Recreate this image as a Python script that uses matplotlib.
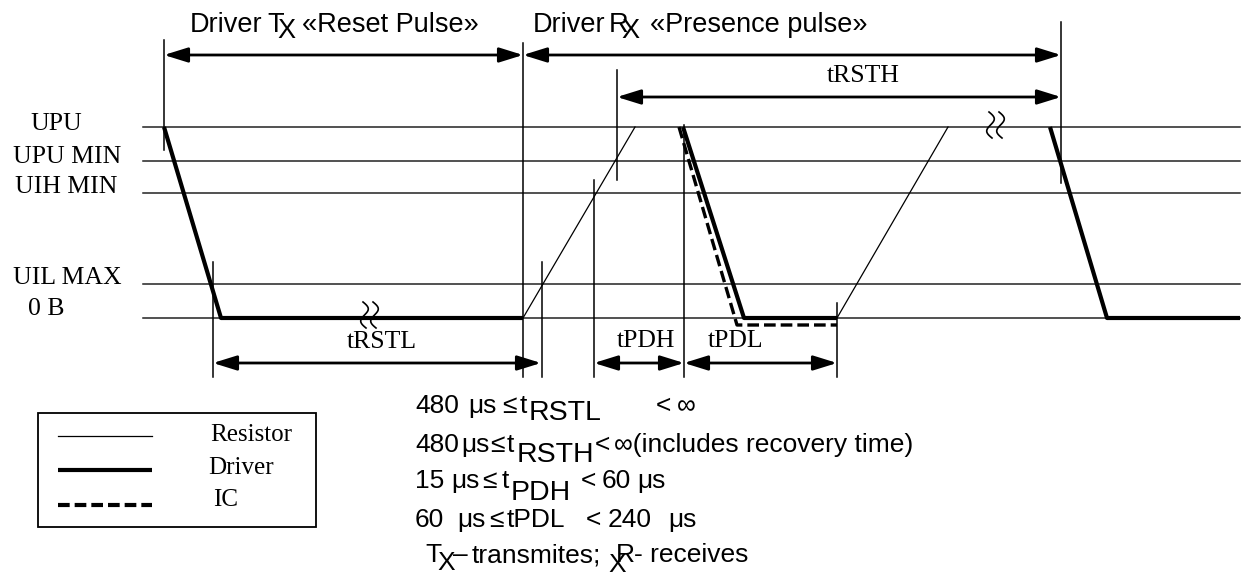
import numpy as np
import matplotlib
matplotlib.use('Agg')
import matplotlib.pyplot as plt
from matplotlib.patches import Rectangle

# Diagram coordinates (pixel space of the original drawing, y grows downwards)
level_names = ['UPU', 'UPU MIN', 'UIH MIN', 'UIL MAX', '0 B']
level_y = [127, 161, 193, 284, 318]
level_label_x = [30, 13, 15, 13, 28]
level_label_base = [130, 163, 193, 284, 315]
level_x = [143, 1240]

# Driver (thick) segments
driver_segments = [
    ([164, 221, 523], [127, 318, 318]),
    ([683, 744, 837], [127, 318, 318]),
    ([1050, 1107, 1240], [127, 318, 318]),
]
# Resistor (thin) rising edges
resistor_segments = [
    ([523, 635], [318, 127]),
    ([837, 948], [318, 127]),
]
# IC (dashed)
ic_x = [679, 737, 837]
ic_y = [127, 325, 325]

# Marker verticals: x, top, bottom
verticals = [(164, 40, 150), (523, 43, 377), (617, 70, 180), (594, 180, 377),
             (542, 262, 377), (213, 262, 377), (684, 125, 377), (837, 303, 377),
             (1061, 22, 183)]

# Dimension arrows: x start, x end, y
arrows = [(164, 523, 55), (523, 1061, 55), (617, 1061, 97),
          (213, 541, 363), (594, 684, 363), (684, 837, 363)]

# Dimension labels
dim_labels = ['tRSTH', 'tRSTL', 'tPDH', 'tPDL']
dim_x = [827, 347, 617, 708]
dim_base = [82, 348, 347, 347]

# Break marks (x, top, bottom)
breaks = [(989, 112, 138), (363, 302, 328)]

# Timing spec rows: (text, x, baseline, size key)
spec_rows = [
    [('480', 415, 413, 'n'), ('μs', 468, 413, 'n'), ('≤', 502, 413, 'n'), ('t', 520, 413, 'n'),
     ('RSTL', 529, 420, 's'), ('<', 656, 413, 'n'), ('∞', 677, 413, 'n')],
    [('480', 415, 452, 'n'), ('μs', 461, 452, 'n'), ('≤', 490, 452, 'n'), ('t', 507, 452, 'n'),
     ('RSTH', 517, 462, 's'), ('<', 595, 452, 'n'), ('∞(includes recovery time)', 614, 452, 'n')],
    [('15', 415, 488, 'n'), ('μs', 451, 488, 'n'), ('≤', 482, 488, 'n'), ('t', 502, 488, 'n'),
     ('PDH', 511, 500, 's'), ('<', 581, 488, 'n'), ('60', 602, 488, 'n'), ('μs', 637, 488, 'n')],
    [('60', 415, 527, 'n'), ('μs', 457, 527, 'n'), ('≤', 489, 527, 'n'), ('tPDL', 507, 527, 'n'),
     ('<', 586, 527, 'n'), ('240', 608, 527, 'n'), ('μs', 668, 527, 'n')],
    [('T', 425, 562, 'n'), ('X', 437, 570, 'n'), ('–', 453, 562, 'n'), ('transmites;', 472, 562, 'n'),
     ('X', 608, 572, 'n'), ('R', 616, 562, 'n'), ('- receives', 634, 562, 'n')],
]

serif = 'Liberation Serif'
sans = 'Liberation Sans'

fig = plt.figure(figsize=(12.49, 5.77), dpi=100)
ax = fig.add_axes([0, 0, 1, 1])
ax.set_xlim(0, 1249)
ax.set_ylim(577, 0)
ax.axis('off')

# levels
for name, y, lx, ly in zip(level_names, level_y, level_label_x, level_label_base):
    ax.plot(level_x, [y, y], color='#222222', lw=1.1)
    ax.text(lx, ly, name, family=serif, fontsize=18.5, va='baseline', ha='left')

for xs, ys in resistor_segments:
    ax.plot(xs, ys, color='k', lw=0.9)
for xs, ys in driver_segments:
    ax.plot(xs, ys, color='k', lw=3, solid_capstyle='butt')
ax.plot(ic_x, ic_y, color='k', lw=2.4, ls=(0, (3.5, 1.5)))

for x, y0, y1 in verticals:
    ax.plot([x, x], [y0, y1], color='k', lw=1.1)

for x0, x1, y in arrows:
    ax.annotate('', xy=(x1, y), xytext=(x0, y),
                arrowprops=dict(arrowstyle='<|-|>,head_length=0.9,head_width=0.28',
                                color='k', lw=2, shrinkA=0, shrinkB=0,
                                mutation_scale=16))

for lab, x, y in zip(dim_labels, dim_x, dim_base):
    ax.text(x, y, lab, family=serif, fontsize=18.5, va='baseline', ha='left')

# break marks
s = np.linspace(0, 1, 50)
for bx, y0, y1 in breaks:
    for dx in (0, 10):
        xs = bx + dx + 4.5 * np.sin(2 * np.pi * s) + 3 * s
        ys = y0 + (y1 - y0) * s
        ax.plot(xs, ys, color='k', lw=1.2)

# header texts
hs = 19.5
ax.text(190, 32, 'Driver', family=sans, fontsize=hs, va='baseline')
ax.text(267, 32, 'T', family=sans, fontsize=hs, va='baseline')
ax.text(277, 38, 'X', family=sans, fontsize=hs, va='baseline')
ax.text(302, 32, '«Reset Pulse»', family=sans, fontsize=hs, va='baseline')
ax.text(533, 32, 'Driver', family=sans, fontsize=hs, va='baseline')
ax.text(609, 32, 'R', family=sans, fontsize=hs, va='baseline')
ax.text(621, 38, 'X', family=sans, fontsize=hs, va='baseline')
ax.text(650, 32, '«Presence pulse»', family=sans, fontsize=hs, va='baseline')

# legend
ax.add_patch(Rectangle((38, 413), 278, 114, fill=False, ec='k', lw=1.3))
ax.plot([58, 152], [436, 436], color='k', lw=0.9)
ax.plot([58, 152], [470, 470], color='k', lw=3, solid_capstyle='butt')
ax.plot([58, 152], [505, 505], color='k', lw=3, ls=(0, (2.8, 1.2)))
ax.text(210, 441, 'Resistor', family=serif, fontsize=18, va='baseline')
ax.text(208, 474, 'Driver', family=serif, fontsize=18, va='baseline')
ax.text(213, 506, 'IC', family=serif, fontsize=18, va='baseline')

# timing specs
sizes = {'n': 19, 's': 20.5}
for row in spec_rows:
    for txt, x, y, k in row:
        ax.text(x, y, txt, family=sans, fontsize=sizes[k], va='baseline', ha='left')

fig.savefig('out.png', dpi=100, facecolor='white')
